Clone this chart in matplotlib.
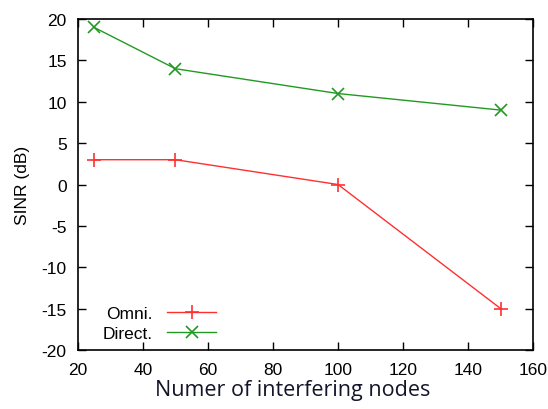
import matplotlib.pyplot as plt

# Data
nodes = [25, 50, 100, 150]
omni = [3, 3, 0, -15]
direct = [19, 14, 11, 9]

plt.rcParams['font.family'] = ['Liberation Sans', 'DejaVu Sans']
plt.rcParams['axes.unicode_minus'] = False

fig = plt.figure(figsize=(5.48, 4.10), dpi=100)
ax = fig.add_axes([0.142, 0.144, 0.831, 0.807])

ax.plot(nodes, omni, color='#ff3030', lw=1.0, marker='+', ms=10, mew=1.2, label='Omni.')
ax.plot(nodes, direct, color='#229922', lw=1.0, marker='x', ms=8, mew=1.2, label='Direct.')

ax.set_xlim(20, 160)
ax.set_ylim(-20, 20)
ax.set_xticks(range(20, 161, 20))
ax.set_yticks(range(-20, 21, 5))
ax.tick_params(direction='in', top=True, right=True, length=6, width=1, labelsize=12.5)
ax.tick_params(axis='y', pad=8)
ax.tick_params(axis='x', pad=9)
for s in ax.spines.values():
    s.set_linewidth(1.2)

ax.set_xlabel('Numer of interfering nodes', fontsize=15.5, family='Open Sans',
              color='#14142a', labelpad=1, x=0.472)
ax.set_ylabel('SINR (dB)', fontsize=12.5, labelpad=8)

ax.legend(loc='lower left', bbox_to_anchor=(0.055, 0.026), frameon=False, markerfirst=False,
          fontsize=12.5, handlelength=2.85, handletextpad=0.8, labelspacing=0.3,
          borderpad=0, borderaxespad=0)

fig.savefig('out.png', dpi=100)
